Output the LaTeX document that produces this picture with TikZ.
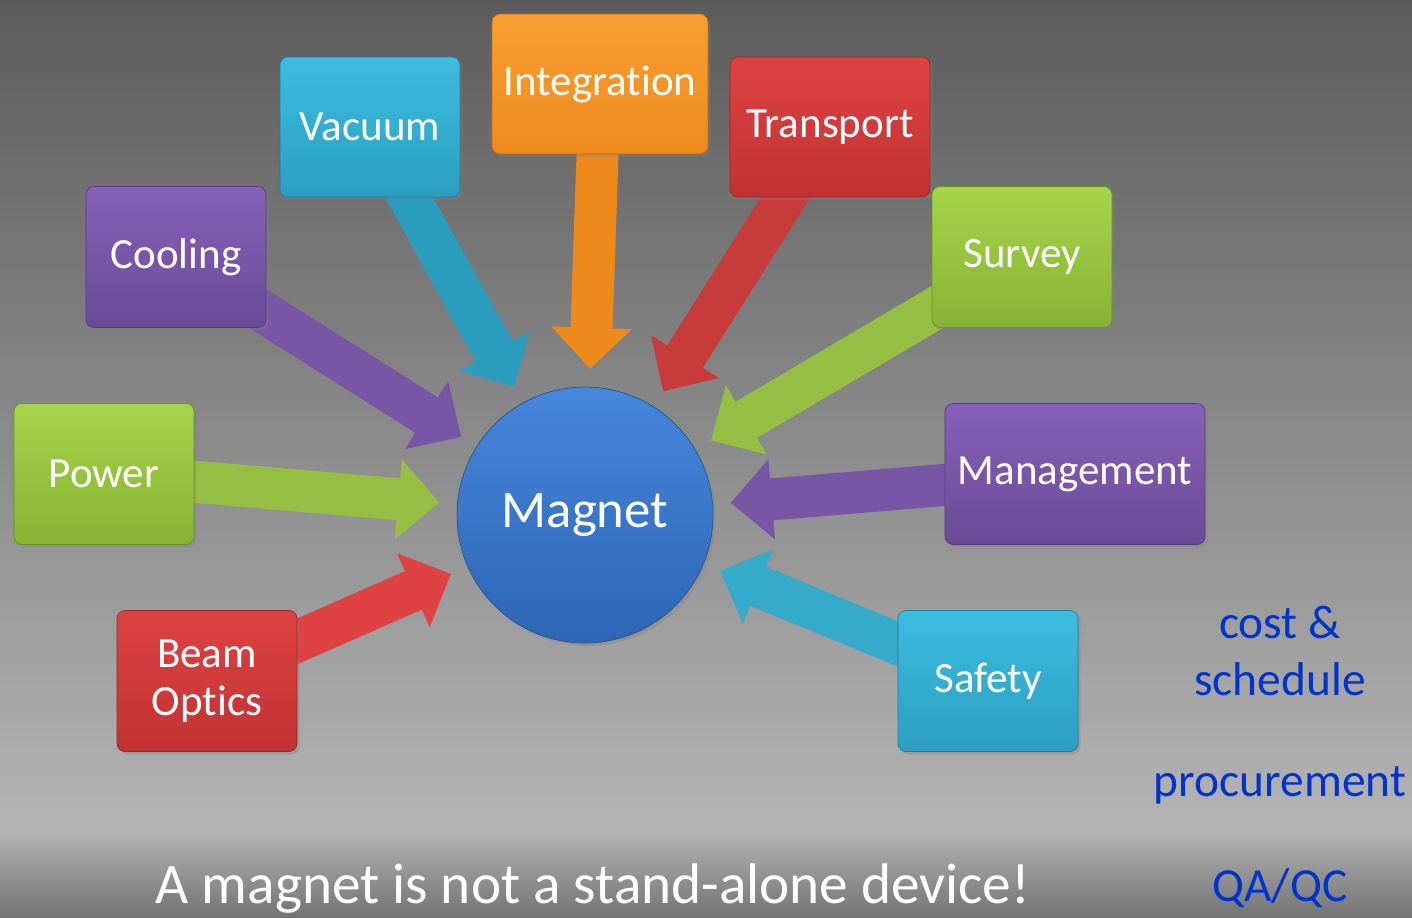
\documentclass[tikz,border=0pt]{standalone}
\usepackage{fontspec}
\setmainfont[Ligatures=NoCommon]{Carlito}
\usetikzlibrary{arrows.meta,shadows,backgrounds}
\definecolor{bgtop}{HTML}{5C5C5C}
\definecolor{bgmid}{HTML}{A2A2A2}
\definecolor{bgbot}{HTML}{B4B4B4}
\definecolor{bgfoot}{HTML}{747474}
\definecolor{orgtop}{HTML}{FA9E32}
\definecolor{orgbot}{HTML}{EE8A1C}
\definecolor{cyntop}{HTML}{3CBDE0}
\definecolor{cynbot}{HTML}{2B9EC0}
\definecolor{redtop}{HTML}{DE4242}
\definecolor{redbot}{HTML}{C23232}
\definecolor{purtop}{HTML}{8760B8}
\definecolor{purbot}{HTML}{6B4B98}
\definecolor{grntop}{HTML}{A6D44A}
\definecolor{grnbot}{HTML}{86B332}
\definecolor{magtop}{HTML}{4687DC}
\definecolor{magbot}{HTML}{2E66B4}
\definecolor{noteblue}{HTML}{0033CC}
\tikzstyle{topicbox} = [rectangle, rounded corners=0.16cm, minimum width=3.6cm, minimum height=2.82cm, text=white, align=center, font=\fontsize{24.5}{27}\selectfont, drop shadow={opacity=0.35, shadow xshift=0.05cm, shadow yshift=-0.06cm}]
\tikzstyle{orangebox} = [topicbox, top color=orgtop, bottom color=orgbot, draw=orgbot!80!black]
\tikzstyle{cyanbox} = [topicbox, top color=cyntop, bottom color=cynbot, draw=cynbot!80!black]
\tikzstyle{redbox} = [topicbox, top color=redtop, bottom color=redbot, draw=redbot!80!black]
\tikzstyle{purplebox} = [topicbox, top color=purtop, bottom color=purbot, draw=purbot!80!black]
\tikzstyle{greenbox} = [topicbox, top color=grntop, bottom color=grnbot, draw=grnbot!80!black]
\tikzstyle{hubcircle} = [circle, minimum size=5.12cm, inner sep=0pt, top color=magtop, bottom color=magbot, draw=magbot!80!black, text=white, font=\fontsize{30}{32}\selectfont, drop shadow={opacity=0.35, shadow xshift=0.05cm, shadow yshift=-0.06cm}]
\tikzstyle{fatarrow} = [line width=0.84cm, -{Triangle[length=0.82cm, width=1.56cm]}, shorten >=0.36cm]
\tikzstyle{bluenote} = [text=noteblue, align=center, font=\fontsize{27}{32}\selectfont]

\begin{document}
\begin{tikzpicture}[x=0.02cm, y=-0.02cm]
\useasboundingbox (0,0) rectangle (1412,917);
\node[hubcircle] (magnet) at (585,515) {Magnet};
\node[orangebox, minimum width=4.32cm, minimum height=2.8cm] (integration) at (600,84) {Integration};
\node[cyanbox, minimum height=2.8cm] (vacuum) at (370,127) {Vacuum};
\node[redbox, minimum width=4cm, minimum height=2.8cm] (transport) at (830,127) {Transport};
\node[purplebox] (cooling) at (176,257) {Cooling};
\node[greenbox] (survey) at (1022,257) {Survey};
\node[greenbox] (power) at (104,474) {Power};
\node[purplebox, minimum width=5.2cm] (management) at (1075,474) {Management};
\node[redbox] (beam) at (207,681) {Beam\\Optics};
\node[cyanbox] (safety) at (988,681) {Safety};
% right hand notes and caption
\node[bluenote] (cost) at (1280,651) {cost \&\\schedule};
\node[bluenote] (procure) at (1280,785) {procurement};
\node[bluenote] (qaqc) at (1280,888) {QA/QC};
\node[text=white, font=\fontsize{32.6}{34}\selectfont] (caption) at (593,889) {A magnet is not a stand-alone device!};
\begin{scope}[on background layer]
\shade[top color=bgtop, middle color=bgmid, bottom color=bgbot] (0,0) rectangle (1412,830);
\shade[top color=bgbot, bottom color=bgfoot] (0,830) rectangle (1412,917);
\draw[fatarrow, orgbot] (integration.center) -- (magnet);
\draw[fatarrow, cynbot] (vacuum.center) -- (magnet);
\draw[fatarrow, redtop!90!black] (transport.center) -- (magnet);
\draw[fatarrow, purtop!90!black] (cooling.center) -- (magnet);
\draw[fatarrow, grntop!90!black] (survey.center) -- (magnet);
\draw[fatarrow, grntop!90!black] (power.center) -- (magnet);
\draw[fatarrow, purtop!90!black] (management.center) -- (magnet);
\draw[fatarrow, redtop] (beam.center) -- (magnet);
\draw[fatarrow, cyntop!90!black] (safety.center) -- (magnet);
\end{scope}
\end{tikzpicture}
\end{document}
